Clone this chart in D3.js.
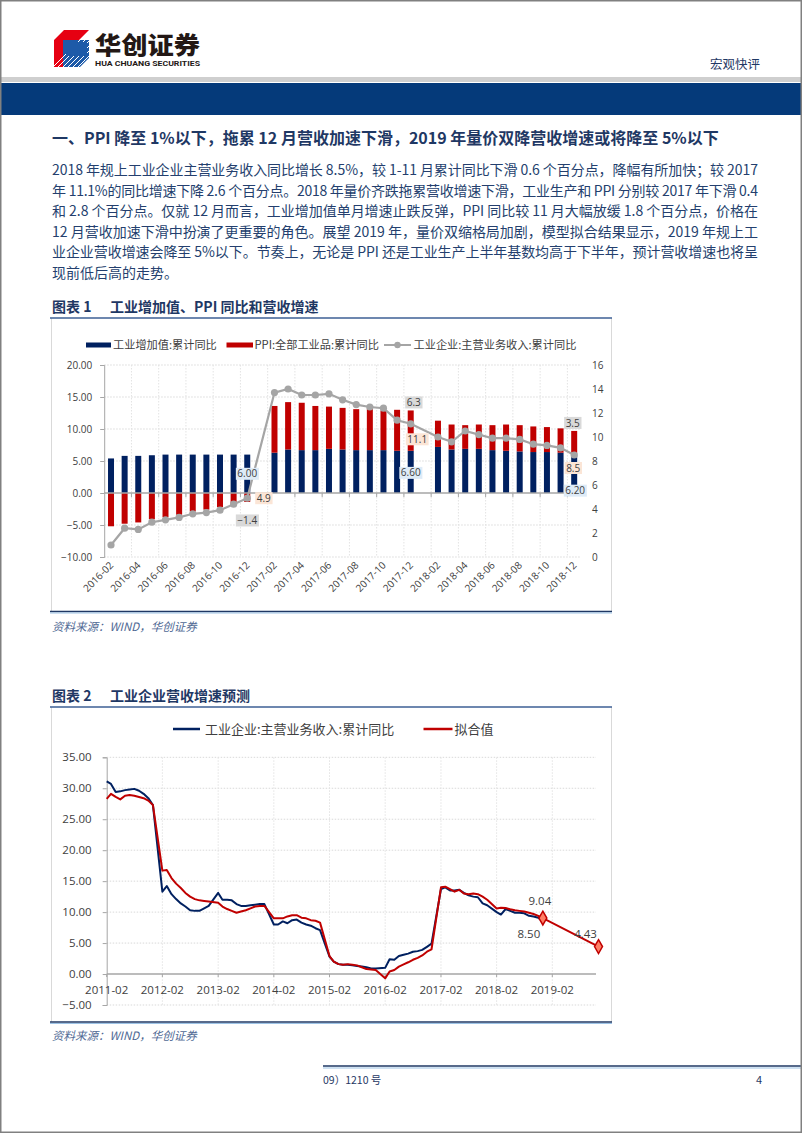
<!DOCTYPE html>
<html>
<head>
<meta charset="utf-8">
<script src="https://cdn.jsdelivr.net/npm/d3@7"></script>
<style>
  body { margin: 0; background: #fff; }
  svg { display: block; font-family: "Noto Sans CJK SC", sans-serif; }
  .num { font-family: "Open Sans", sans-serif; }
</style>
</head>
<body>
<div id="app"></div>
<script>
// ---- chart 1 data: 2016-02 .. 2018-12 (January has no cumulative value)
const months1 = [
  '2016-02','2016-03','2016-04','2016-05','2016-06','2016-07','2016-08','2016-09','2016-10','2016-11','2016-12',
  '2017-01','2017-02','2017-03','2017-04','2017-05','2017-06','2017-07','2017-08','2017-09','2017-10','2017-11','2017-12',
  '2018-01','2018-02','2018-03','2018-04','2018-05','2018-06','2018-07','2018-08','2018-09','2018-10','2018-11','2018-12'
];
const ivaCum = [5.4,5.8,5.8,5.9,6.0,6.0,6.0,6.0,6.0,6.0,6.0, null,
  6.3,6.8,6.7,6.7,6.9,6.8,6.7,6.7,6.7,6.6,6.6, null,
  7.2,6.8,6.9,6.9,6.7,6.6,6.5,6.4,6.4,6.3,6.2];
const ppiCum = [-5.2,-4.8,-4.6,-4.1,-3.8,-3.4,-2.9,-2.6,-2.2,-1.7,-1.4, null,
  7.3,7.4,7.4,6.9,6.6,6.5,6.4,6.5,6.2,6.4,6.3, null,
  4.1,3.9,3.7,3.8,3.9,4.1,4.1,4.0,3.9,3.8,3.5];
const revenueCum = [1.0,2.4,2.3,2.9,3.1,3.3,3.6,3.7,3.9,4.4,4.9, null,
  13.7,14.0,13.5,13.5,13.6,13.1,12.7,12.5,12.4,11.4,11.1, null,
  10.0,9.6,10.5,10.2,9.9,9.9,9.8,9.4,9.3,9.1,8.5];
const leftTicks1 = [-10, -5, 0, 5, 10, 15, 20];
const rightTicks1 = [0, 2, 4, 6, 8, 10, 12, 14, 16];
const legend1 = ['工业增加值:累计同比', 'PPI:全部工业品:累计同比', '工业企业:主营业务收入:累计同比'];

// ---- chart 2 data: Feb..Dec of each year, 2011..2018
const salesYears = [2011, 2012, 2013, 2014, 2015, 2016, 2017, 2018];
const salesMonthNums = ['02','03','04','05','06','07','08','09','10','11','12'];
const salesActual = [
  31.1,30.7,29.4,29.5,29.7,29.8,29.9,29.6,29.1,28.4,27.3,
  13.3,14.2,12.9,12.1,11.4,10.9,10.3,10.2,10.2,10.6,11.0,
  13.1,12.0,12.0,11.9,11.3,11.0,11.0,11.1,11.2,11.3,11.3,
  8.0,8.0,8.5,8.2,8.7,8.8,8.3,8.0,7.8,7.4,7.1,
  2.8,2.0,1.6,1.5,1.5,1.4,1.3,1.2,1.1,0.9,0.9,
  1.0,2.4,2.3,2.9,3.1,3.3,3.6,3.7,3.9,4.4,4.9,
  13.7,14.0,13.5,13.5,13.6,13.1,12.7,12.5,12.4,11.4,11.1,
  10.0,9.6,10.5,10.2,9.9,9.9,9.8,9.4,9.3,9.1,8.5
];
const salesFitted = [
  28.3,29.1,28.6,28.2,28.8,28.9,28.8,28.6,28.4,28.0,27.3,
  16.7,16.8,15.5,14.6,13.9,13.1,12.5,12.1,11.9,11.8,11.7,
  11.5,10.9,10.5,10.2,9.9,10.1,10.3,10.6,10.9,11.0,11.0,
  9.0,9.0,9.0,9.3,9.5,9.5,9.1,9.0,8.7,8.6,8.3,
  2.9,2.0,1.6,1.5,1.6,1.5,1.4,1.1,0.8,0.75,0.65,
  -0.7,0.4,0.65,1.2,1.55,1.9,2.3,2.6,3.0,3.6,4.0,
  14.0,14.1,13.7,13.3,13.6,13.0,12.9,13.0,12.9,12.5,12.0,
  10.6,10.7,10.65,10.45,10.3,10.2,10.1,9.9,9.7,9.4,9.04
];
const forecastMonth = '2019-12';
const forecastValue = 4.43;
const leftTicks2 = [-5, 0, 5, 10, 15, 20, 25, 30, 35];
const xTicks2 = ['2011-02','2012-02','2013-02','2014-02','2015-02','2016-02','2017-02','2018-02','2019-02'];
const legend2 = ['工业企业:主营业务收入:累计同比', '拟合值'];

const heading = '一、PPI 降至 1%以下，拖累 12 月营收加速下滑，2019 年量价双降营收增速或将降至 5%以下';
const bodyLines = [
  '2018 年规上工业企业主营业务收入同比增长 8.5%，较 1-11 月累计同比下滑 0.6 个百分点，降幅有所加快；较 2017',
  '年 11.1%的同比增速下降 2.6 个百分点。2018 年量价齐跌拖累营收增速下滑，工业生产和 PPI 分别较 2017 年下滑 0.4',
  '和 2.8 个百分点。仅就 12 月而言，工业增加值单月增速止跌反弹，PPI 同比较 11 月大幅放缓 1.8 个百分点，价格在',
  '12 月营收加速下滑中扮演了更重要的角色。展望 2019 年，量价双缩格局加剧，模型拟合结果显示，2019 年规上工',
  '业企业营收增速会降至 5%以下。节奏上，无论是 PPI 还是工业生产上半年基数均高于下半年，预计营收增速也将呈',
  '现前低后高的走势。'
];

const navy = '#1f3864';
const W = 802, H = 1133;

const svg = d3.select('#app').append('svg')
  .attr('width', W)
  .attr('height', H);

svg.append('rect').attr('width', W).attr('height', H).attr('fill', '#fff');

// ---------- header ----------
const logo = svg.append('g');
logo.append('polygon').attr('points', '54,40 64,30 89,30 79,40 63,40 63,67 54,67').attr('fill', '#e60012');
logo.append('polygon').attr('points', '63,40 89,40 89,58 80,67 63,67').attr('fill', '#1d5aa8');
for (let i = 0; i < 9; i++) {
  logo.append('line')
    .attr('x1', 50 + i * 5).attr('y1', 70)
    .attr('x2', 90 + i * 5).attr('y2', 30)
    .attr('stroke', '#fff').attr('stroke-width', 1);
}
logo.append('rect').attr('x', 66).attr('y', 42).attr('width', 21).attr('height', 14).attr('fill', '#1d5aa8');

svg.append('text').attr('x', 95).attr('y', 54)
  .attr('font-size', 24).attr('font-weight', 900).attr('fill', '#231815')
  .attr('textLength', 105).attr('lengthAdjust', 'spacingAndGlyphs')
  .text('华创证券');
svg.append('text').attr('x', 95).attr('y', 66)
  .attr('font-family', 'Roboto, sans-serif')
  .attr('font-size', 7).attr('font-weight', 700).attr('fill', '#231815')
  .attr('textLength', 105).attr('lengthAdjust', 'spacingAndGlyphs')
  .text('HUA CHUANG SECURITIES');
svg.append('text').attr('x', 760).attr('y', 68.5)
  .attr('text-anchor', 'end').attr('font-size', 12.5).attr('fill', navy)
  .text('宏观快评');

svg.append('rect').attr('x', 0).attr('y', 77).attr('width', W).attr('height', 5).attr('fill', '#cfcfcf');
svg.append('rect').attr('x', 0).attr('y', 83).attr('width', W).attr('height', 32).attr('fill', '#053a7a');

// ---------- heading & body ----------
svg.append('text').attr('x', 52).attr('y', 144)
  .attr('font-size', 16).attr('font-weight', 700).attr('fill', navy)
  .text(heading);

const bodyY = [175, 195.5, 216, 236.5, 257, 277.5];
svg.append('g').selectAll('text')
  .data(bodyLines)
  .join('text')
    .attr('x', 52)
    .attr('y', (d, i) => bodyY[i])
    .attr('font-size', 14)
    .attr('fill', '#243f6e')
    .attr('textLength', (d, i) => i < bodyLines.length - 1 ? 706 : null)
    .attr('lengthAdjust', 'spacing')
    .text(d => d);

// ---------- shared frame helper ----------
function frame(top, bottom, num, title, srcY) {
  svg.append('text').attr('x', 52).attr('y', top - 6)
    .attr('font-size', 14).attr('font-weight', 700).attr('fill', navy)
    .text('图表 ' + num);
  svg.append('text').attr('x', 110).attr('y', top - 6)
    .attr('font-size', 14).attr('font-weight', 700).attr('fill', navy)
    .text(title);
  svg.append('line').attr('x1', 51.5).attr('x2', 51.5).attr('y1', top).attr('y2', bottom)
    .attr('stroke', '#d9d9d9');
  svg.append('line').attr('x1', 611.5).attr('x2', 611.5).attr('y1', top).attr('y2', bottom)
    .attr('stroke', '#d9d9d9');
  svg.append('line').attr('x1', 50).attr('x2', 612).attr('y1', top).attr('y2', top)
    .attr('stroke', '#3c5f95').attr('stroke-width', 1.6);
  svg.append('line').attr('x1', 50).attr('x2', 612).attr('y1', bottom).attr('y2', bottom)
    .attr('stroke', '#1f3864').attr('stroke-width', 1.6);
  svg.append('line').attr('x1', 50).attr('x2', 612).attr('y1', bottom + 1.5).attr('y2', bottom + 1.5)
    .attr('stroke', '#9dc3e6').attr('stroke-width', 1);
  svg.append('text').attr('x', 52).attr('y', srcY)
    .attr('font-size', 11.5).attr('font-style', 'italic').attr('fill', '#4f6994')
    .text('资料来源：WIND，华创证券');
}

// ---------- chart 1 ----------
frame(318, 611.5, 1, '工业增加值、PPI 同比和营收增速', 631);

const c1 = { left: 104.2, right: 581, top: 365, bottom: 557 };
const x1 = d3.scaleBand().domain(months1).range([c1.left, c1.right])
  .paddingInner(0.56).paddingOuter(0.28);
const y1 = d3.scaleLinear().domain([-10, 20]).range([c1.bottom, c1.top]);
const y1r = d3.scaleLinear().domain([0, 16]).range([c1.bottom, c1.top]);
const step1 = x1.step();
const cx1 = m => x1(m) + x1.bandwidth() / 2;
const edge1 = m => cx1(m) - step1 / 2;

const g1 = svg.append('g');

// grid
g1.append('g').selectAll('line')
  .data(leftTicks1.filter(d => d !== 0))
  .join('line')
    .attr('x1', c1.left).attr('x2', c1.right)
    .attr('y1', d => y1(d)).attr('y2', d => y1(d))
    .attr('stroke', '#d9d9d9').attr('stroke-dasharray', '1.5,1.5');
const gridMonths1 = months1.filter((m, i) => i % 2 === 0 && i > 0);
g1.append('g').selectAll('line')
  .data(gridMonths1)
  .join('line')
    .attr('x1', d => edge1(d)).attr('x2', d => edge1(d))
    .attr('y1', c1.top).attr('y2', c1.bottom)
    .attr('stroke', '#e3e3e3').attr('stroke-dasharray', '1.5,1.5');

// stacked bars
const rows1 = months1.map((m, i) => ({ month: m, iva: ivaCum[i], ppi: ppiCum[i] }));
const series1 = d3.stack()
  .keys(['iva', 'ppi'])
  .value((d, k) => d[k] == null ? 0 : d[k])
  .offset(d3.stackOffsetDiverging)(rows1);
const barColor = { iva: '#002060', ppi: '#c00000' };

g1.append('g').selectAll('g')
  .data(series1)
  .join('g')
    .attr('fill', d => barColor[d.key])
  .selectAll('rect')
  .data(d => d.filter(p => p.data[d.key] != null))
  .join('rect')
    .attr('x', d => x1(d.data.month))
    .attr('width', x1.bandwidth())
    .attr('y', d => y1(Math.max(d[0], d[1])))
    .attr('height', d => Math.abs(y1(d[0]) - y1(d[1])));

// zero line + ticks
g1.append('line').attr('x1', c1.left).attr('x2', c1.right)
  .attr('y1', y1(0)).attr('y2', y1(0))
  .attr('stroke', '#a6a6a6').attr('stroke-width', 1.3);
g1.append('g').selectAll('line')
  .data(gridMonths1)
  .join('line')
    .attr('x1', d => edge1(d)).attr('x2', d => edge1(d))
    .attr('y1', y1(0)).attr('y2', y1(0) + 4)
    .attr('stroke', '#a6a6a6');

// left axis
const axL1 = g1.append('g')
  .attr('transform', `translate(${c1.left},0)`)
  .call(d3.axisLeft(y1).tickValues(leftTicks1).tickFormat(d3.format('.2f')).tickSize(4).tickPadding(8));
axL1.select('.domain').attr('stroke', '#a6a6a6');
axL1.selectAll('.tick line').attr('stroke', '#a6a6a6');
axL1.selectAll('text').attr('class', 'num').attr('font-size', 10).attr('fill', '#404040');

// right axis
const axR1 = g1.append('g')
  .attr('transform', `translate(${c1.right},0)`)
  .call(d3.axisRight(y1r).tickValues(rightTicks1).tickSize(0).tickPadding(11));
axR1.select('.domain').remove();
axR1.selectAll('text').attr('class', 'num').attr('font-size', 10).attr('fill', '#404040');

// x labels
g1.append('g').selectAll('text')
  .data(months1.filter((m, i) => i % 2 === 0))
  .join('text')
    .attr('class', 'num')
    .attr('transform', d => `translate(${cx1(d) + 3},${c1.bottom + 9}) rotate(-45)`)
    .attr('text-anchor', 'end')
    .attr('font-size', 10)
    .attr('fill', '#404040')
    .text(d => d);

// revenue line (right axis)
const pts1 = months1.map((m, i) => ({ month: m, v: revenueCum[i] })).filter(d => d.v != null);
g1.append('path')
  .datum(pts1)
  .attr('fill', 'none')
  .attr('stroke', '#a5a5a5')
  .attr('stroke-width', 2.2)
  .attr('d', d3.line().x(d => cx1(d.month)).y(d => y1r(d.v)));
g1.append('g').selectAll('circle')
  .data(pts1)
  .join('circle')
    .attr('cx', d => cx1(d.month))
    .attr('cy', d => y1r(d.v))
    .attr('r', 3.6)
    .attr('fill', '#a5a5a5');

// data label boxes
const labelSpecs1 = [
  { month: '2016-12', key: 'iva', fill: '#deebf7', dx: 0, dy: 0 },
  { month: '2017-12', key: 'iva', fill: '#deebf7', dx: 0, dy: 1 },
  { month: '2018-12', key: 'iva', fill: '#deebf7', dx: 1, dy: 17.5 },
  { month: '2016-12', key: 'ppi', fill: '#d9d9d9', dx: 0, dy: 18.5 },
  { month: '2017-12', key: 'ppi', fill: '#d9d9d9', dx: 3, dy: -8 },
  { month: '2018-12', key: 'ppi', fill: '#d9d9d9', dx: -1.5, dy: -8 },
  { month: '2016-12', key: 'rev', fill: '#fbe5d6', dx: 16.5, dy: 0 },
  { month: '2017-12', key: 'rev', fill: '#fbe5d6', dx: 6.5, dy: 15.5 },
  { month: '2018-12', key: 'rev', fill: '#fbe5d6', dx: -1, dy: 13 }
];
labelSpecs1.forEach(s => {
  const i = months1.indexOf(s.month);
  let py, txt;
  if (s.key === 'iva') {
    py = y1(ivaCum[i] / 2); txt = d3.format('.2f')(ivaCum[i]);
  } else if (s.key === 'ppi') {
    py = ppiCum[i] < 0 ? y1(ppiCum[i]) : y1(ivaCum[i] + ppiCum[i]); txt = d3.format('.1f')(ppiCum[i]);
  } else {
    py = y1r(revenueCum[i]); txt = d3.format('.1f')(revenueCum[i]);
  }
  const lx = cx1(s.month) + s.dx, ly = py + s.dy;
  const lg = g1.append('g');
  const t = lg.append('text')
    .attr('class', 'num')
    .attr('x', lx).attr('y', ly).attr('dy', '0.36em')
    .attr('text-anchor', 'middle')
    .attr('font-size', 10)
    .attr('fill', '#404040')
    .text(txt);
  const bb = t.node().getBBox();
  lg.insert('rect', 'text')
    .attr('x', bb.x - 1.5).attr('y', ly - 6)
    .attr('width', bb.width + 3).attr('height', 12)
    .attr('fill', s.fill);
});

// legend 1
const lg1 = svg.append('g').attr('font-size', 11.2).attr('fill', '#404040');
lg1.append('rect').attr('x', 86).attr('y', 342.5).attr('width', 25).attr('height', 5).attr('fill', '#002060');
lg1.append('text').attr('x', 113).attr('y', 349).text(legend1[0]);
lg1.append('rect').attr('x', 226.5).attr('y', 342.5).attr('width', 26.5).attr('height', 5).attr('fill', '#c00000');
lg1.append('text').attr('x', 254.5).attr('y', 349).text(legend1[1]);
lg1.append('line').attr('x1', 384).attr('x2', 411).attr('y1', 345).attr('y2', 345)
  .attr('stroke', '#a5a5a5').attr('stroke-width', 2);
lg1.append('circle').attr('cx', 397.5).attr('cy', 345).attr('r', 3.2).attr('fill', '#a5a5a5');
lg1.append('text').attr('x', 413.5).attr('y', 349).text(legend1[2]);

// ---------- chart 2 ----------
frame(707, 1022, 2, '工业企业营收增速预测', 1040);

const parseMonth = d3.timeParse('%Y-%m');
const salesDates = salesYears.flatMap(y => salesMonthNums.map(m => parseMonth(`${y}-${m}`)));
const c2 = { left: 106.7, right: 596, top: 757.3, bottom: 1005 };
const x2 = d3.scaleTime()
  .domain([parseMonth(xTicks2[0]), parseMonth(xTicks2[xTicks2.length - 1])])
  .range([c2.left, 552.3]);
const y2 = d3.scaleLinear().domain([-5, 35]).range([c2.bottom, c2.top]);

const g2 = svg.append('g');
g2.append('g').selectAll('line')
  .data(leftTicks2.filter(d => d !== 0))
  .join('line')
    .attr('x1', c2.left).attr('x2', c2.right)
    .attr('y1', d => y2(d)).attr('y2', d => y2(d))
    .attr('stroke', '#d9d9d9').attr('stroke-dasharray', '1.5,1.5');
g2.append('g').selectAll('line')
  .data(xTicks2.slice(1))
  .join('line')
    .attr('x1', d => x2(parseMonth(d))).attr('x2', d => x2(parseMonth(d)))
    .attr('y1', c2.top).attr('y2', c2.bottom)
    .attr('stroke', '#e3e3e3').attr('stroke-dasharray', '1.5,1.5');

// axes
g2.append('line').attr('x1', c2.left).attr('x2', c2.right)
  .attr('y1', y2(0)).attr('y2', y2(0))
  .attr('stroke', '#a6a6a6').attr('stroke-width', 1.5);
g2.append('g').selectAll('line')
  .data(xTicks2)
  .join('line')
    .attr('x1', d => x2(parseMonth(d))).attr('x2', d => x2(parseMonth(d)))
    .attr('y1', y2(0)).attr('y2', y2(0) + 3)
    .attr('stroke', '#a6a6a6');
const axL2 = g2.append('g')
  .attr('transform', `translate(${c2.left},0)`)
  .call(d3.axisLeft(y2).tickValues(leftTicks2).tickFormat(d3.format('.2f')).tickSize(4).tickPadding(11));
axL2.select('.domain').attr('stroke', '#a6a6a6');
axL2.selectAll('.tick line').attr('stroke', '#a6a6a6');
axL2.selectAll('text').attr('class', 'num').attr('font-size', 11.5).attr('fill', '#404040');

g2.append('g').selectAll('text')
  .data(xTicks2)
  .join('text')
    .attr('class', 'num')
    .attr('x', d => x2(parseMonth(d)))
    .attr('y', 994)
    .attr('text-anchor', 'middle')
    .attr('font-size', 11.5)
    .attr('fill', '#404040')
    .text(d => d);

// lines
const actualPts = salesDates.map((d, i) => ({ date: d, v: salesActual[i] }));
const fittedPts = salesDates.map((d, i) => ({ date: d, v: salesFitted[i] }))
  .concat([{ date: parseMonth(forecastMonth), v: forecastValue }]);
const line2 = d3.line().x(d => x2(d.date)).y(d => y2(d.v));
g2.append('path').datum(actualPts)
  .attr('fill', 'none').attr('stroke', '#002060').attr('stroke-width', 2)
  .attr('stroke-linejoin', 'round').attr('d', line2);
g2.append('path').datum(fittedPts)
  .attr('fill', 'none').attr('stroke', '#c00000').attr('stroke-width', 2)
  .attr('stroke-linejoin', 'round').attr('d', line2);

const markPts = fittedPts.slice(-2);
g2.append('g').selectAll('path')
  .data(markPts)
  .join('path')
    .attr('transform', d => `translate(${x2(d.date)},${y2(d.v)})`)
    .attr('d', d3.symbol().type(d3.symbolDiamond).size(55))
    .attr('fill', '#ff7f66')
    .attr('stroke', '#c00000')
    .attr('stroke-width', 1.5);

const lastActual = actualPts[actualPts.length - 1];
const valLabels2 = [
  { p: markPts[0], txt: d3.format('.2f')(markPts[0].v), dx: -3, dy: -17 },
  { p: lastActual, txt: d3.format('.2f')(lastActual.v), dx: -14, dy: 12 },
  { p: markPts[1], txt: d3.format('.2f')(markPts[1].v), dx: -13, dy: -13 }
];
g2.append('g').selectAll('text')
  .data(valLabels2)
  .join('text')
    .attr('class', 'num')
    .attr('x', d => x2(d.p.date) + d.dx)
    .attr('y', d => y2(d.p.v) + d.dy)
    .attr('dy', '0.36em')
    .attr('text-anchor', 'middle')
    .attr('font-size', 11.5)
    .attr('fill', '#404040')
    .text(d => d.txt);

// legend 2
const lg2 = svg.append('g').attr('font-size', 13).attr('fill', '#404040');
lg2.append('line').attr('x1', 173).attr('x2', 200).attr('y1', 729).attr('y2', 729)
  .attr('stroke', '#002060').attr('stroke-width', 2.5);
lg2.append('text').attr('x', 205).attr('y', 733.5).text(legend2[0]);
lg2.append('line').attr('x1', 423.5).attr('x2', 452.5).attr('y1', 729).attr('y2', 729)
  .attr('stroke', '#c00000').attr('stroke-width', 2.5);
lg2.append('text').attr('x', 454.5).attr('y', 733.5).text(legend2[1]);

// ---------- footer ----------
svg.append('line').attr('x1', 323).attr('x2', W).attr('y1', 1066).attr('y2', 1066)
  .attr('stroke', '#1f3864').attr('stroke-width', 1.5);
svg.append('line').attr('x1', 323).attr('x2', W).attr('y1', 1068).attr('y2', 1068)
  .attr('stroke', '#9dc3e6').attr('stroke-width', 1.2);
svg.append('text').attr('x', 323).attr('y', 1084)
  .attr('font-size', 10.5).attr('fill', navy).text('09）1210 号');
svg.append('text').attr('x', 756).attr('y', 1084)
  .attr('font-size', 11).attr('fill', navy).text('4');

// page border
svg.append('rect').attr('x', 0.75).attr('y', 0.75).attr('width', W - 1.5).attr('height', H - 1.5)
  .attr('fill', 'none').attr('stroke', '#808080').attr('stroke-width', 1.5);
</script>
</body>
</html>
